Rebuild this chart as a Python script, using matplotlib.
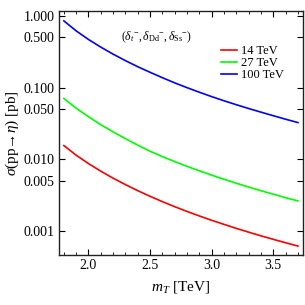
import matplotlib
matplotlib.use("Agg")
import matplotlib.pyplot as plt
from matplotlib.ticker import FixedLocator, FixedFormatter, MultipleLocator, NullLocator

plt.rcParams["font.family"] = ["Liberation Serif", "DejaVu Serif"]
plt.rcParams["mathtext.fontset"] = "custom"
plt.rcParams["mathtext.rm"] = "Liberation Serif"
plt.rcParams["mathtext.it"] = "Liberation Serif:italic"

# m_T [TeV] and cross sections [pb]
m_T = [1.8, 1.9, 2.0, 2.1, 2.2, 2.3, 2.4, 2.5, 2.6, 2.7,
       2.8, 2.9, 3.0, 3.1, 3.2, 3.3, 3.4, 3.5, 3.6, 3.7]
sigma_14 = [0.01549, 0.01135, 0.00867, 0.00679, 0.00542, 0.00441, 0.00363,
            0.00303, 0.00255, 0.00217, 0.00186, 0.00161, 0.00140, 0.00123,
            0.00108, 0.000957, 0.000851, 0.000760, 0.000681, 0.000612]
sigma_27 = [0.0703, 0.0513, 0.0391, 0.0302, 0.0240, 0.0193, 0.01567,
            0.01288, 0.01084, 0.00923, 0.00794, 0.00687, 0.00598, 0.00524,
            0.00461, 0.00408, 0.00363, 0.00324, 0.00290, 0.00261]
sigma_100 = [0.851, 0.617, 0.468, 0.366, 0.292, 0.237, 0.195,
             0.163, 0.137, 0.116, 0.0995, 0.0859, 0.0746, 0.0653,
             0.0575, 0.0509, 0.0453, 0.0404, 0.0361, 0.0324]

series = [("14 TeV", sigma_14, "#ff0000"),
          ("27 TeV", sigma_27, "#00ff00"),
          ("100 TeV", sigma_100, "#0000ff")]

y_ticks = [0.001, 0.005, 0.010, 0.050, 0.100, 0.500, 1.000]
y_labels = ["0.001", "0.005", "0.010", "0.050", "0.100", "0.500", "1.000"]

fig = plt.figure(figsize=(3.05, 3.05), dpi=100)
ax = fig.add_axes([0.192, 0.164, 0.801, 0.800])

for lab, ys, col in series:
    ax.plot(m_T, ys, color=col, lw=1.2, label=lab)

ax.set_yscale("log")
ax.set_xlim(1.757, 3.74)
ax.set_ylim(4.6e-4, 1.17)

ax.yaxis.set_major_locator(FixedLocator(y_ticks))
ax.yaxis.set_major_formatter(FixedFormatter(y_labels))
ax.yaxis.set_minor_locator(NullLocator())
ax.xaxis.set_major_locator(MultipleLocator(0.5))
ax.xaxis.set_minor_locator(MultipleLocator(0.1))

ax.tick_params(which="both", direction="in", top=True, right=True, labelsize=10)
ax.tick_params(which="major", length=4, width=0.8, pad=3)
ax.tick_params(which="minor", length=2, width=0.6)
for s in ax.spines.values():
    s.set_linewidth(1.0)
    s.set_color("#222222")

ax.set_xlabel(r"$m_T$ [TeV]", fontsize=11, labelpad=5)
ax.set_ylabel("$\\sigma$(pp\u2192$\\eta$) [pb]", fontsize=11, labelpad=2)

ax.text(2.55, 0.51, r"$(\delta_t{}^{-},\delta_{\rm Dd}{}^{-},\delta_{\rm Ss}{}^{-})$",
        fontsize=8.5, ha="center", va="center")

ax.legend(loc="upper left", bbox_to_anchor=(0.645, 0.88), frameon=False,
          fontsize=9, handlelength=1.3, handletextpad=0.3, labelspacing=0.0,
          borderaxespad=0)

fig.savefig("out.png", dpi=100)
